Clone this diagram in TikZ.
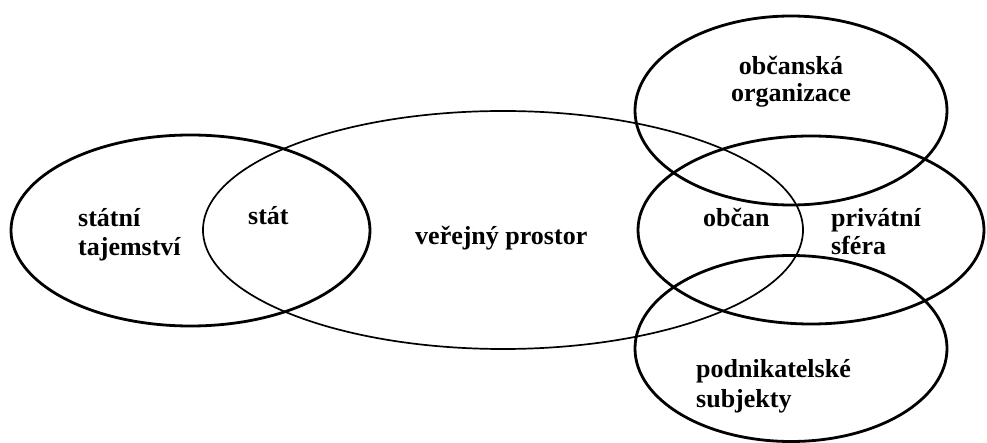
\documentclass[tikz,border=0pt]{standalone}
\usepackage{fontspec}
\setmainfont{Liberation Serif}
\tikzset{
  thickring/.style={line width=2.8pt},
  thinring/.style={line width=1.7pt},
  label/.style={inner sep=0pt, anchor=base west, font=\fontsize{26}{30}\selectfont\bfseries},
  clabel/.style={label, anchor=base}
}

\begin{document}
\begin{tikzpicture}[x=1pt, y=-1pt]
\useasboundingbox (0,0) rectangle (987,443);
% ellipses
\draw[thickring] (190.5,230.5) ellipse [x radius=179.5, y radius=95.5];
\draw[thinring] (503,230) ellipse [x radius=300, y radius=119];
\draw[thickring] (811,230) ellipse [x radius=173, y radius=94];
\draw[thickring] (791,110.5) ellipse [x radius=156, y radius=94.5];
\draw[thickring] (791,348.5) ellipse [x radius=156, y radius=93];
% texts
\node[label] (tajemstvi) at (78,227) {státní};
\node[label] (tajemstvi2) at (78,256) {tajemství};
\node[label] (stat) at (248,225) {stát};
\node[label] (prostor) at (415,245) {veřejný prostor};
\node[label] (obcan) at (703,227) {občan};
\node[label] (sfera) at (831,227) {privátní};
\node[label] (sfera2) at (831,255) {sféra};
\node[clabel] (organizace) at (791,75) {občanská};
\node[clabel] (organizace2) at (791,102) {organizace};
\node[label] (subjekty) at (696,377) {podnikatelské};
\node[label] (subjekty2) at (696,407) {subjekty};
\end{tikzpicture}
\end{document}
